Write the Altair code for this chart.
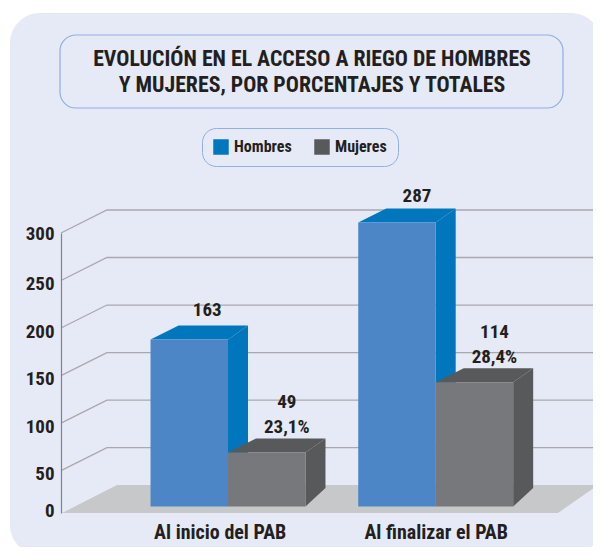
import altair as alt
import pandas as pd

# ---- values as printed / ----
periodos = ["Al inicio del PAB", "Al finalizar el PAB"]
series = ["Hombres", "Mujeres"]
totales_hombres = [163, 287]
totales_mujeres = [49, 114]
porcentajes_mujeres = ["23,1%", "28,4%"]
# bar-top heights as they read against the printed axis (the 3-D drawing lifts them)
alto_hombres = [188, 311]
alto_mujeres = [69, 143]
y_ticks = [0, 50, 100, 150, 200, 250, 300]

FONT = "Roboto Condensed"
INK = "#231F20"
PANEL = "#E6EAF6"
BORDER = "#8FB0E0"
FRONT = {"Hombres": "#4C86C6", "Mujeres": "#77787B"}
SIDE = {"Hombres": "#0076BD", "Mujeres": "#58595B"}
FLOOR = "#C7C8CA"
GRID = "#A7A9AC"

# 3-D drawing parameters, in axis units
BASE = 7.7          # foot of the bars
BASE_BACK = 29.5
BAR_W = 0.373       # bar width in category units
DEPTH_R = 0.0963
DEPTH_L = 0.135
LIFT = 14.7
GRID_LIFT = 24.2

xs = alt.Scale(domain=[-1, 1], range=[12.3, 427.7])
ys = alt.Scale(domain=[0, 50, 300], range=[505, 462.6, 225])


def area_row(face, serie, x, top, bottom):
    return {"face": face, "serie": serie, "x": x, "top": top, "bottom": bottom}


faces, fronts, labels = [], [], []
for i in range(2):
    for s, alts, offs in (
        ("Hombres", alto_hombres, -BAR_W),
        ("Mujeres", alto_mujeres, 0.0),
    ):
        h = alts[i]
        xl = i + offs
        xr = xl + BAR_W
        side = f"side-{s}-{i}"
        top = f"top-{s}-{i}"
        faces += [
            area_row(side, s, xr, h, BASE),
            area_row(side, s, xr + DEPTH_R, h + LIFT, BASE_BACK),
            area_row(top, s, xl, h, h),
            area_row(top, s, xl + DEPTH_L, h + LIFT, h),
            area_row(top, s, xr, h + LIFT, h),
            area_row(top, s, xr + DEPTH_R, h + LIFT, h + LIFT),
        ]
        fronts.append({"serie": s, "x": xl, "x2": xr, "y": h, "y2": BASE})
    labels += [
        {"x": i - BAR_W / 2 + DEPTH_R * (0.9 if i == 0 else 1),
         "y": alto_hombres[i] + LIFT + (16 if i == 0 else 13),
         "t": str(totales_hombres[i])},
        {"x": i + BAR_W / 2 + DEPTH_R, "y": alto_mujeres[i] + LIFT + 12,
         "t": porcentajes_mujeres[i]},
        {"x": i + BAR_W / 2 + DEPTH_R, "y": alto_mujeres[i] + LIFT + 38,
         "t": str(totales_mujeres[i])},
    ]

floor = pd.DataFrame([
    area_row("floor", "", -0.799, 0, 0),
    area_row("floor", "", -0.534, 33, 0),
    area_row("floor", "", 1.589, 33, 0),
    area_row("floor", "", 1.781, 33, 33),
])

grid = pd.DataFrame(
    [r for v in y_ticks[1:] for r in (
        {"v": v, "x": -0.804, "y": v},
        {"v": v, "x": -0.583, "y": v + GRID_LIFT},
        {"v": v, "x": 1.78, "y": v + GRID_LIFT},
    )]
)

faces = pd.DataFrame(faces)
fronts = pd.DataFrame(fronts)
labels = pd.DataFrame(labels)

AX_X = alt.Axis(
    values=[-0.04, 1.0], title=None, grid=False, ticks=False, domain=False, zindex=1,
    offset=-25, labelPadding=0, labelFont=FONT, labelFontSize=20, labelFlush=False,
    labelFontWeight="bold", labelColor=INK,
    labelExpr=f"datum.value < 0.5 ? '{periodos[0]}' : '{periodos[1]}'",
)
AX_Y = alt.Axis(
    values=y_ticks, title=None, offset=-53, grid=False, ticks=False, zindex=1,
    domain=True, domainColor="#808285", domainWidth=1.2, labelFont=FONT,
    labelFontSize=19, labelFontWeight="bold", labelColor=INK, labelPadding=7,
    labelFlush=False,
    labelOffset={
        "condition": [
            {"test": "datum.value == 0", "value": -3},
            {"test": "datum.value == 300", "value": 0},
        ],
        "value": 3,
    },
)

X = alt.X("x:Q", scale=xs, axis=AX_X)
Y = alt.Y("y:Q", scale=ys, axis=AX_Y)
Ya = alt.Y("top:Q", scale=ys, axis=AX_Y, stack=None)
Y2a = alt.Y2("bottom:Q")
color = alt.Color(
    "serie:N",
    scale=alt.Scale(domain=series, range=[SIDE[s] for s in series]),
    legend=alt.Legend(
        title=None, orient="none", legendX=194, legendY=120,
        direction="horizontal", columns=2, symbolType="square", symbolSize=240,
        symbolStrokeWidth=0, symbolOpacity=1, labelFont=FONT, labelFontSize=16,
        labelFontWeight="bold", labelColor=INK, fillColor=PANEL,
        strokeColor=BORDER, cornerRadius=14, padding=11, columnPadding=22,
        labelOffset=5,
    ),
)

panel = alt.Chart(pd.DataFrame({"a": [0]})).mark_rect(
    color=PANEL, cornerRadius=30
).encode(x=alt.value(2), x2=alt.value(593), y=alt.value(5), y2=alt.value(547))

title_box = alt.Chart(pd.DataFrame({"a": [0]})).mark_rect(
    fill=PANEL, stroke=BORDER, strokeWidth=1.2, cornerRadius=16
).encode(x=alt.value(52), x2=alt.value(555), y=alt.value(27), y2=alt.value(100))

floor_l = alt.Chart(floor).mark_area(color=FLOOR, orient="vertical").encode(
    x=X, y=Ya, y2=Y2a, detail="face:N"
)

grid_l = alt.Chart(grid).mark_line(color=GRID, strokeWidth=1.3).encode(
    x=X, y=Y, detail="v:N",
)


def bar_layers(s):
    sub_f = faces[faces.serie == s]
    sub = fronts[fronts.serie == s]
    return [
        alt.Chart(sub_f).mark_area(orient="vertical", opacity=1).encode(
            x=X, y=Ya, y2=Y2a, color=color, detail="face:N"
        ),
        alt.Chart(sub).mark_rect(color=FRONT[s]).encode(
            x=X, x2=alt.X2("x2:Q"), y=Y, y2=alt.Y2("y2:Q")
        ),
    ]


text_l = alt.Chart(labels).mark_text(
    font=FONT, fontSize=19, fontWeight="bold", color=INK, baseline="middle"
).encode(x=X, y=Y, text="t:N")

chart = alt.layer(
    panel, title_box, floor_l, grid_l,
    *bar_layers("Hombres"), *bar_layers("Mujeres"), text_l,
).properties(
    width=585,
    height=539,
    padding=0,
    autosize=alt.AutoSizeParams(type="none"),
    background="white",
    title=alt.TitleParams(
        text=[
            "EVOLUCIÓN EN EL ACCESO A RIEGO DE HOMBRES",
            "Y MUJERES, POR PORCENTAJES Y TOTALES",
        ],
        font=FONT, fontSize=21.8, fontWeight="bold", color=INK, lineHeight=26,
        anchor="middle", dx=11.5, dy=89, offset=0,
    ),
).configure_view(stroke=None)

chart.save("out.html", embed_options={"renderer": "svg", "actions": False})
